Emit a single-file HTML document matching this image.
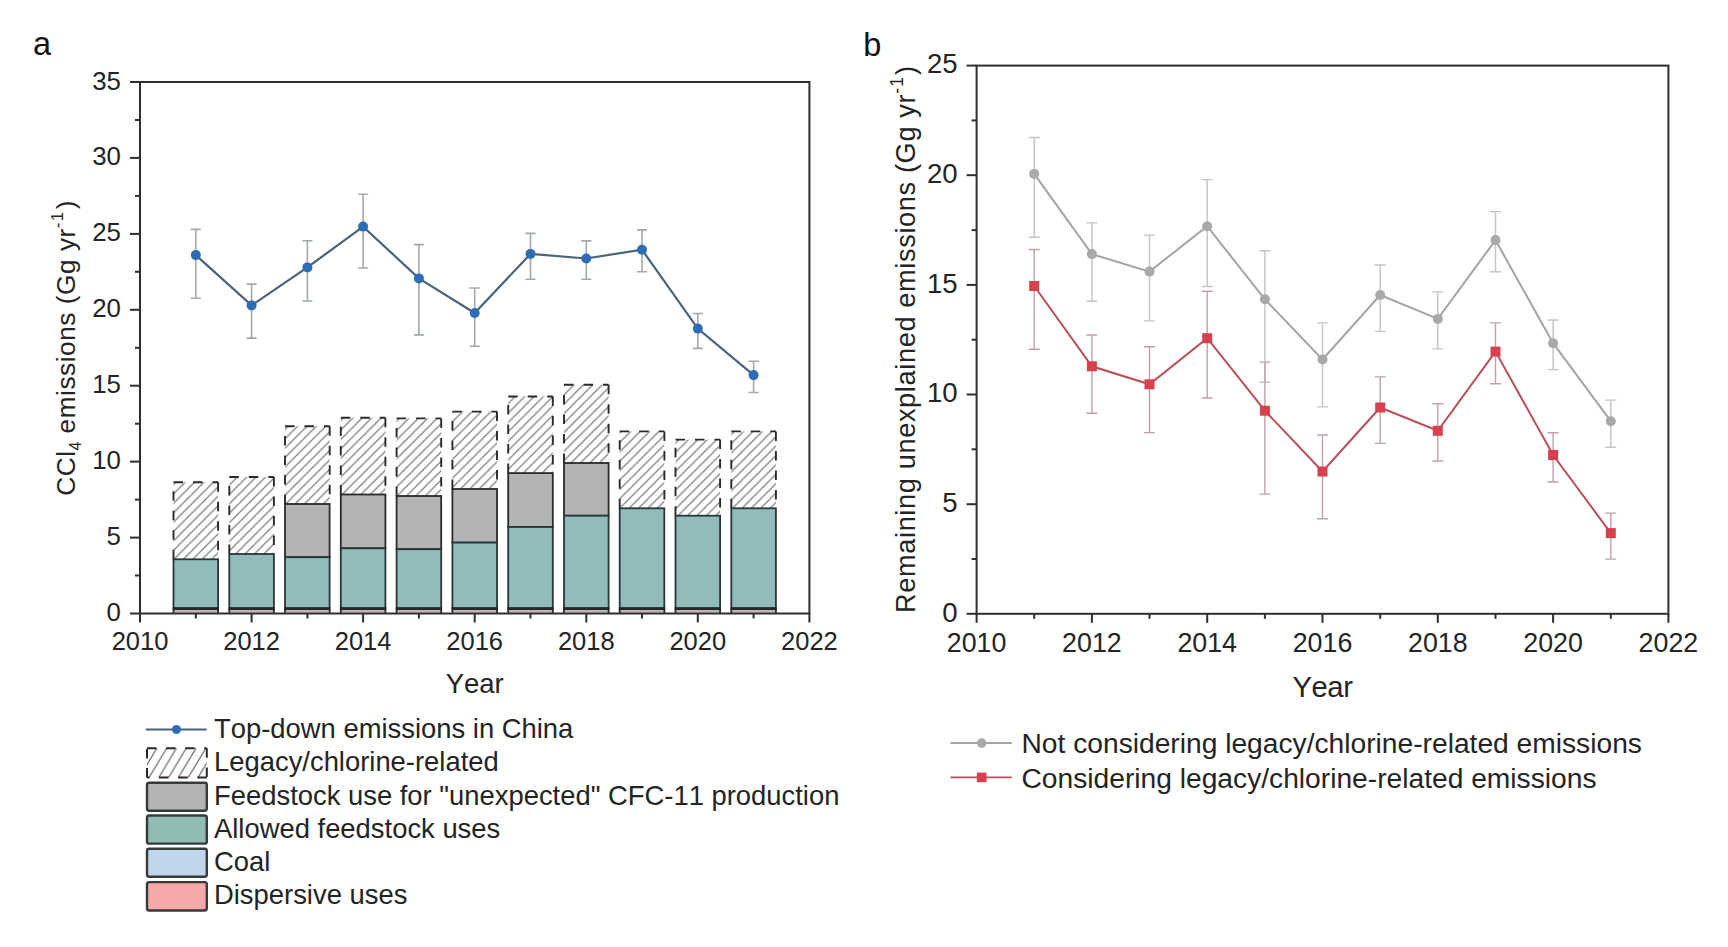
<!DOCTYPE html>
<html><head><meta charset="utf-8"><title>CCl4 emissions</title>
<style>
html,body{margin:0;padding:0;background:#fff;width:1728px;height:947px;overflow:hidden}
svg text{font-family:"Liberation Sans", sans-serif;font-kerning:none}
</style></head>
<body>
<svg width="1728" height="947" viewBox="0 0 1728 947" style="position:absolute;left:0;top:0">
<defs>
<pattern id="hatch" patternUnits="userSpaceOnUse" width="9.4" height="9.4"><path d="M-1,10.4 L10.4,-1 M-1,1 L1,-1 M8.4,10.4 L10.4,8.4" stroke="#7a7a7a" stroke-width="1.2"/></pattern>
<pattern id="hatchL" patternUnits="userSpaceOnUse" x="147" y="748.3" width="9.8" height="16.3"><path d="M-0.6,17.3 L10.4,-1 M-1,1.66 L0.6,-1 M9.2,17.3 L10.8,14.64" stroke="#6a6a6a" stroke-width="1.2"/></pattern>
</defs>
<rect x="0" y="0" width="1728" height="947" fill="#fff"/>
<rect x="173.5" y="482.3" width="44.6" height="77.0" fill="url(#hatch)"/>
<path d="M173.5,482.3H218.1M218.1,482.3V559.3M173.5,559.3V482.3" fill="none" stroke="#2a2a2a" stroke-width="1.9" stroke-dasharray="9.5 10"/>
<rect x="173.5" y="559.3" width="44.6" height="48.9" fill="#92bbbb" stroke="#263838" stroke-width="1.8"/>
<rect x="172.6" y="607.3" width="46.4" height="3.0" fill="#222828"/>
<rect x="173.5" y="610.3" width="44.6" height="2.3" fill="#c2b2b2"/>
<path d="M173.5,610V613M218.1,610V613" stroke="#2a2a2a" stroke-width="1.8"/>
<rect x="229.3" y="477.0" width="44.6" height="77.0" fill="url(#hatch)"/>
<path d="M229.3,477.0H273.9M273.9,477.0V554.0M229.3,554.0V477.0" fill="none" stroke="#2a2a2a" stroke-width="1.9" stroke-dasharray="9.5 10"/>
<rect x="229.3" y="554.0" width="44.6" height="54.2" fill="#92bbbb" stroke="#263838" stroke-width="1.8"/>
<rect x="228.4" y="607.3" width="46.4" height="3.0" fill="#222828"/>
<rect x="229.3" y="610.3" width="44.6" height="2.3" fill="#c2b2b2"/>
<path d="M229.3,610V613M273.9,610V613" stroke="#2a2a2a" stroke-width="1.8"/>
<rect x="285.0" y="426.2" width="44.6" height="77.8" fill="url(#hatch)"/>
<path d="M285.0,426.2H329.7M329.7,426.2V504.0M285.0,504.0V426.2" fill="none" stroke="#2a2a2a" stroke-width="1.9" stroke-dasharray="9.5 10"/>
<rect x="285.0" y="504.0" width="44.6" height="53.2" fill="#b4b4b4" stroke="#2a2a2a" stroke-width="1.8"/>
<rect x="285.0" y="557.2" width="44.6" height="51.0" fill="#92bbbb" stroke="#263838" stroke-width="1.8"/>
<rect x="284.1" y="607.3" width="46.4" height="3.0" fill="#222828"/>
<rect x="285.0" y="610.3" width="44.6" height="2.3" fill="#c2b2b2"/>
<path d="M285.0,610V613M329.7,610V613" stroke="#2a2a2a" stroke-width="1.8"/>
<rect x="340.8" y="417.7" width="44.6" height="76.8" fill="url(#hatch)"/>
<path d="M340.8,417.7H385.4M385.4,417.7V494.5M340.8,494.5V417.7" fill="none" stroke="#2a2a2a" stroke-width="1.9" stroke-dasharray="9.5 10"/>
<rect x="340.8" y="494.5" width="44.6" height="53.8" fill="#b4b4b4" stroke="#2a2a2a" stroke-width="1.8"/>
<rect x="340.8" y="548.3" width="44.6" height="59.9" fill="#92bbbb" stroke="#263838" stroke-width="1.8"/>
<rect x="339.9" y="607.3" width="46.4" height="3.0" fill="#222828"/>
<rect x="340.8" y="610.3" width="44.6" height="2.3" fill="#c2b2b2"/>
<path d="M340.8,610V613M385.4,610V613" stroke="#2a2a2a" stroke-width="1.8"/>
<rect x="396.6" y="418.4" width="44.6" height="77.6" fill="url(#hatch)"/>
<path d="M396.6,418.4H441.2M441.2,418.4V496.0M396.6,496.0V418.4" fill="none" stroke="#2a2a2a" stroke-width="1.9" stroke-dasharray="9.5 10"/>
<rect x="396.6" y="496.0" width="44.6" height="53.2" fill="#b4b4b4" stroke="#2a2a2a" stroke-width="1.8"/>
<rect x="396.6" y="549.2" width="44.6" height="59.0" fill="#92bbbb" stroke="#263838" stroke-width="1.8"/>
<rect x="395.7" y="607.3" width="46.4" height="3.0" fill="#222828"/>
<rect x="396.6" y="610.3" width="44.6" height="2.3" fill="#c2b2b2"/>
<path d="M396.6,610V613M441.2,610V613" stroke="#2a2a2a" stroke-width="1.8"/>
<rect x="452.4" y="411.6" width="44.6" height="77.4" fill="url(#hatch)"/>
<path d="M452.4,411.6H497.0M497.0,411.6V489.0M452.4,489.0V411.6" fill="none" stroke="#2a2a2a" stroke-width="1.9" stroke-dasharray="9.5 10"/>
<rect x="452.4" y="489.0" width="44.6" height="53.6" fill="#b4b4b4" stroke="#2a2a2a" stroke-width="1.8"/>
<rect x="452.4" y="542.6" width="44.6" height="65.6" fill="#92bbbb" stroke="#263838" stroke-width="1.8"/>
<rect x="451.5" y="607.3" width="46.4" height="3.0" fill="#222828"/>
<rect x="452.4" y="610.3" width="44.6" height="2.3" fill="#c2b2b2"/>
<path d="M452.4,610V613M497.0,610V613" stroke="#2a2a2a" stroke-width="1.8"/>
<rect x="508.2" y="396.5" width="44.6" height="76.6" fill="url(#hatch)"/>
<path d="M508.2,396.5H552.8M552.8,396.5V473.1M508.2,473.1V396.5" fill="none" stroke="#2a2a2a" stroke-width="1.9" stroke-dasharray="9.5 10"/>
<rect x="508.2" y="473.1" width="44.6" height="53.9" fill="#b4b4b4" stroke="#2a2a2a" stroke-width="1.8"/>
<rect x="508.2" y="527.0" width="44.6" height="81.2" fill="#92bbbb" stroke="#263838" stroke-width="1.8"/>
<rect x="507.3" y="607.3" width="46.4" height="3.0" fill="#222828"/>
<rect x="508.2" y="610.3" width="44.6" height="2.3" fill="#c2b2b2"/>
<path d="M508.2,610V613M552.8,610V613" stroke="#2a2a2a" stroke-width="1.8"/>
<rect x="564.0" y="384.7" width="44.6" height="78.3" fill="url(#hatch)"/>
<path d="M564.0,384.7H608.6M608.6,384.7V463.0M564.0,463.0V384.7" fill="none" stroke="#2a2a2a" stroke-width="1.9" stroke-dasharray="9.5 10"/>
<rect x="564.0" y="463.0" width="44.6" height="52.7" fill="#b4b4b4" stroke="#2a2a2a" stroke-width="1.8"/>
<rect x="564.0" y="515.7" width="44.6" height="92.5" fill="#92bbbb" stroke="#263838" stroke-width="1.8"/>
<rect x="563.1" y="607.3" width="46.4" height="3.0" fill="#222828"/>
<rect x="564.0" y="610.3" width="44.6" height="2.3" fill="#c2b2b2"/>
<path d="M564.0,610V613M608.6,610V613" stroke="#2a2a2a" stroke-width="1.8"/>
<rect x="619.7" y="431.4" width="44.6" height="76.9" fill="url(#hatch)"/>
<path d="M619.7,431.4H664.4M664.4,431.4V508.3M619.7,508.3V431.4" fill="none" stroke="#2a2a2a" stroke-width="1.9" stroke-dasharray="9.5 10"/>
<rect x="619.7" y="508.3" width="44.6" height="99.9" fill="#92bbbb" stroke="#263838" stroke-width="1.8"/>
<rect x="618.8" y="607.3" width="46.4" height="3.0" fill="#222828"/>
<rect x="619.7" y="610.3" width="44.6" height="2.3" fill="#c2b2b2"/>
<path d="M619.7,610V613M664.4,610V613" stroke="#2a2a2a" stroke-width="1.8"/>
<rect x="675.5" y="439.6" width="44.6" height="76.1" fill="url(#hatch)"/>
<path d="M675.5,439.6H720.1M720.1,439.6V515.7M675.5,515.7V439.6" fill="none" stroke="#2a2a2a" stroke-width="1.9" stroke-dasharray="9.5 10"/>
<rect x="675.5" y="515.7" width="44.6" height="92.5" fill="#92bbbb" stroke="#263838" stroke-width="1.8"/>
<rect x="674.6" y="607.3" width="46.4" height="3.0" fill="#222828"/>
<rect x="675.5" y="610.3" width="44.6" height="2.3" fill="#c2b2b2"/>
<path d="M675.5,610V613M720.1,610V613" stroke="#2a2a2a" stroke-width="1.8"/>
<rect x="731.3" y="431.4" width="44.6" height="76.9" fill="url(#hatch)"/>
<path d="M731.3,431.4H775.9M775.9,431.4V508.3M731.3,508.3V431.4" fill="none" stroke="#2a2a2a" stroke-width="1.9" stroke-dasharray="9.5 10"/>
<rect x="731.3" y="508.3" width="44.6" height="99.9" fill="#92bbbb" stroke="#263838" stroke-width="1.8"/>
<rect x="730.4" y="607.3" width="46.4" height="3.0" fill="#222828"/>
<rect x="731.3" y="610.3" width="44.6" height="2.3" fill="#c2b2b2"/>
<path d="M731.3,610V613M775.9,610V613" stroke="#2a2a2a" stroke-width="1.8"/>
<rect x="140.0" y="82.0" width="669.4" height="531.5" fill="none" stroke="#2e2e2e" stroke-width="2"/>
<line x1="130.0" y1="613.5" x2="140.0" y2="613.5" stroke="#2e2e2e" stroke-width="2"/>
<text x="120.9" y="621.0" text-anchor="end" font-size="25.8" fill="#242424">0</text>
<line x1="130.0" y1="537.6" x2="140.0" y2="537.6" stroke="#2e2e2e" stroke-width="2"/>
<text x="120.9" y="545.1" text-anchor="end" font-size="25.8" fill="#242424">5</text>
<line x1="130.0" y1="461.6" x2="140.0" y2="461.6" stroke="#2e2e2e" stroke-width="2"/>
<text x="120.9" y="469.1" text-anchor="end" font-size="25.8" fill="#242424">10</text>
<line x1="130.0" y1="385.7" x2="140.0" y2="385.7" stroke="#2e2e2e" stroke-width="2"/>
<text x="120.9" y="393.2" text-anchor="end" font-size="25.8" fill="#242424">15</text>
<line x1="130.0" y1="309.8" x2="140.0" y2="309.8" stroke="#2e2e2e" stroke-width="2"/>
<text x="120.9" y="317.3" text-anchor="end" font-size="25.8" fill="#242424">20</text>
<line x1="130.0" y1="233.9" x2="140.0" y2="233.9" stroke="#2e2e2e" stroke-width="2"/>
<text x="120.9" y="241.4" text-anchor="end" font-size="25.8" fill="#242424">25</text>
<line x1="130.0" y1="157.9" x2="140.0" y2="157.9" stroke="#2e2e2e" stroke-width="2"/>
<text x="120.9" y="165.4" text-anchor="end" font-size="25.8" fill="#242424">30</text>
<line x1="130.0" y1="82.0" x2="140.0" y2="82.0" stroke="#2e2e2e" stroke-width="2"/>
<text x="120.9" y="89.5" text-anchor="end" font-size="25.8" fill="#242424">35</text>
<line x1="135.0" y1="575.5" x2="140.0" y2="575.5" stroke="#2e2e2e" stroke-width="2"/>
<line x1="135.0" y1="499.6" x2="140.0" y2="499.6" stroke="#2e2e2e" stroke-width="2"/>
<line x1="135.0" y1="423.7" x2="140.0" y2="423.7" stroke="#2e2e2e" stroke-width="2"/>
<line x1="135.0" y1="347.8" x2="140.0" y2="347.8" stroke="#2e2e2e" stroke-width="2"/>
<line x1="135.0" y1="271.8" x2="140.0" y2="271.8" stroke="#2e2e2e" stroke-width="2"/>
<line x1="135.0" y1="195.9" x2="140.0" y2="195.9" stroke="#2e2e2e" stroke-width="2"/>
<line x1="135.0" y1="120.0" x2="140.0" y2="120.0" stroke="#2e2e2e" stroke-width="2"/>
<line x1="140.0" y1="613.5" x2="140.0" y2="622.5" stroke="#2e2e2e" stroke-width="2"/>
<text x="140.0" y="649.6" text-anchor="middle" font-size="25.5" fill="#242424">2010</text>
<line x1="251.6" y1="613.5" x2="251.6" y2="622.5" stroke="#2e2e2e" stroke-width="2"/>
<text x="251.6" y="649.6" text-anchor="middle" font-size="25.5" fill="#242424">2012</text>
<line x1="363.1" y1="613.5" x2="363.1" y2="622.5" stroke="#2e2e2e" stroke-width="2"/>
<text x="363.1" y="649.6" text-anchor="middle" font-size="25.5" fill="#242424">2014</text>
<line x1="474.7" y1="613.5" x2="474.7" y2="622.5" stroke="#2e2e2e" stroke-width="2"/>
<text x="474.7" y="649.6" text-anchor="middle" font-size="25.5" fill="#242424">2016</text>
<line x1="586.3" y1="613.5" x2="586.3" y2="622.5" stroke="#2e2e2e" stroke-width="2"/>
<text x="586.3" y="649.6" text-anchor="middle" font-size="25.5" fill="#242424">2018</text>
<line x1="697.8" y1="613.5" x2="697.8" y2="622.5" stroke="#2e2e2e" stroke-width="2"/>
<text x="697.8" y="649.6" text-anchor="middle" font-size="25.5" fill="#242424">2020</text>
<line x1="809.4" y1="613.5" x2="809.4" y2="622.5" stroke="#2e2e2e" stroke-width="2"/>
<text x="809.4" y="649.6" text-anchor="middle" font-size="25.5" fill="#242424">2022</text>
<line x1="195.8" y1="613.5" x2="195.8" y2="618.5" stroke="#2e2e2e" stroke-width="2"/>
<line x1="307.4" y1="613.5" x2="307.4" y2="618.5" stroke="#2e2e2e" stroke-width="2"/>
<line x1="418.9" y1="613.5" x2="418.9" y2="618.5" stroke="#2e2e2e" stroke-width="2"/>
<line x1="530.5" y1="613.5" x2="530.5" y2="618.5" stroke="#2e2e2e" stroke-width="2"/>
<line x1="642.0" y1="613.5" x2="642.0" y2="618.5" stroke="#2e2e2e" stroke-width="2"/>
<line x1="753.6" y1="613.5" x2="753.6" y2="618.5" stroke="#2e2e2e" stroke-width="2"/>
<text x="474.7" y="693" text-anchor="middle" font-size="27.5" fill="#242424">Year</text>
<text transform="translate(75.3,347.8) rotate(-90)" text-anchor="middle" font-size="26.2" fill="#242424" letter-spacing="0.55">CCl<tspan font-size="15.6" dy="5.6">4</tspan><tspan dy="-5.6"> emissions (Gg yr</tspan><tspan font-size="17" dy="-12" letter-spacing="1.2">-1</tspan><tspan dy="12" dx="1.5">)</tspan></text>
<path d="M195.8,229.4V298.2M190.8,229.4H200.8M190.8,298.2H200.8" stroke="#a3a9aa" stroke-width="1.6" fill="none"/>
<path d="M251.6,284.1V338.1M246.6,284.1H256.6M246.6,338.1H256.6" stroke="#a3a9aa" stroke-width="1.6" fill="none"/>
<path d="M307.4,240.8V301.0M302.4,240.8H312.4M302.4,301.0H312.4" stroke="#a3a9aa" stroke-width="1.6" fill="none"/>
<path d="M363.1,194.3V268.0M358.1,194.3H368.1M358.1,268.0H368.1" stroke="#a3a9aa" stroke-width="1.6" fill="none"/>
<path d="M418.9,244.6V334.9M413.9,244.6H423.9M413.9,334.9H423.9" stroke="#a3a9aa" stroke-width="1.6" fill="none"/>
<path d="M474.7,288.0V346.2M469.7,288.0H479.7M469.7,346.2H479.7" stroke="#a3a9aa" stroke-width="1.6" fill="none"/>
<path d="M530.5,233.4V279.2M525.5,233.4H535.5M525.5,279.2H535.5" stroke="#a3a9aa" stroke-width="1.6" fill="none"/>
<path d="M586.3,240.9V279.2M581.3,240.9H591.3M581.3,279.2H591.3" stroke="#a3a9aa" stroke-width="1.6" fill="none"/>
<path d="M642.0,229.9V271.7M637.0,229.9H647.0M637.0,271.7H647.0" stroke="#a3a9aa" stroke-width="1.6" fill="none"/>
<path d="M697.8,313.5V348.4M692.8,313.5H702.8M692.8,348.4H702.8" stroke="#a3a9aa" stroke-width="1.6" fill="none"/>
<path d="M753.6,361.2V392.5M748.6,361.2H758.6M748.6,392.5H758.6" stroke="#a3a9aa" stroke-width="1.6" fill="none"/>
<polyline points="195.8,255.1 251.6,305.4 307.4,267.4 363.1,226.6 418.9,278.4 474.7,313.0 530.5,253.9 586.3,258.5 642.0,249.7 697.8,328.6 753.6,375.1" fill="none" stroke="#4b6379" stroke-width="2.2"/>
<circle cx="195.8" cy="255.1" r="5" fill="#2e6db5"/>
<circle cx="251.6" cy="305.4" r="5" fill="#2e6db5"/>
<circle cx="307.4" cy="267.4" r="5" fill="#2e6db5"/>
<circle cx="363.1" cy="226.6" r="5" fill="#2e6db5"/>
<circle cx="418.9" cy="278.4" r="5" fill="#2e6db5"/>
<circle cx="474.7" cy="313.0" r="5" fill="#2e6db5"/>
<circle cx="530.5" cy="253.9" r="5" fill="#2e6db5"/>
<circle cx="586.3" cy="258.5" r="5" fill="#2e6db5"/>
<circle cx="642.0" cy="249.7" r="5" fill="#2e6db5"/>
<circle cx="697.8" cy="328.6" r="5" fill="#2e6db5"/>
<circle cx="753.6" cy="375.1" r="5" fill="#2e6db5"/>
<rect x="976.6" y="65.6" width="691.8" height="548.2" fill="none" stroke="#2e2e2e" stroke-width="2"/>
<line x1="966.6" y1="613.8" x2="976.6" y2="613.8" stroke="#2e2e2e" stroke-width="2"/>
<text x="957.6" y="621.5" text-anchor="end" font-size="27.6" fill="#242424">0</text>
<line x1="966.6" y1="504.2" x2="976.6" y2="504.2" stroke="#2e2e2e" stroke-width="2"/>
<text x="957.6" y="511.9" text-anchor="end" font-size="27.6" fill="#242424">5</text>
<line x1="966.6" y1="394.5" x2="976.6" y2="394.5" stroke="#2e2e2e" stroke-width="2"/>
<text x="957.6" y="402.2" text-anchor="end" font-size="27.6" fill="#242424">10</text>
<line x1="966.6" y1="284.9" x2="976.6" y2="284.9" stroke="#2e2e2e" stroke-width="2"/>
<text x="957.6" y="292.6" text-anchor="end" font-size="27.6" fill="#242424">15</text>
<line x1="966.6" y1="175.2" x2="976.6" y2="175.2" stroke="#2e2e2e" stroke-width="2"/>
<text x="957.6" y="182.9" text-anchor="end" font-size="27.6" fill="#242424">20</text>
<line x1="966.6" y1="65.6" x2="976.6" y2="65.6" stroke="#2e2e2e" stroke-width="2"/>
<text x="957.6" y="73.3" text-anchor="end" font-size="27.6" fill="#242424">25</text>
<line x1="971.6" y1="559.0" x2="976.6" y2="559.0" stroke="#2e2e2e" stroke-width="2"/>
<line x1="971.6" y1="449.3" x2="976.6" y2="449.3" stroke="#2e2e2e" stroke-width="2"/>
<line x1="971.6" y1="339.7" x2="976.6" y2="339.7" stroke="#2e2e2e" stroke-width="2"/>
<line x1="971.6" y1="230.1" x2="976.6" y2="230.1" stroke="#2e2e2e" stroke-width="2"/>
<line x1="971.6" y1="120.4" x2="976.6" y2="120.4" stroke="#2e2e2e" stroke-width="2"/>
<line x1="976.6" y1="613.8" x2="976.6" y2="622.8" stroke="#2e2e2e" stroke-width="2"/>
<text x="976.6" y="651.5" text-anchor="middle" font-size="26.8" fill="#242424">2010</text>
<line x1="1091.9" y1="613.8" x2="1091.9" y2="622.8" stroke="#2e2e2e" stroke-width="2"/>
<text x="1091.9" y="651.5" text-anchor="middle" font-size="26.8" fill="#242424">2012</text>
<line x1="1207.2" y1="613.8" x2="1207.2" y2="622.8" stroke="#2e2e2e" stroke-width="2"/>
<text x="1207.2" y="651.5" text-anchor="middle" font-size="26.8" fill="#242424">2014</text>
<line x1="1322.5" y1="613.8" x2="1322.5" y2="622.8" stroke="#2e2e2e" stroke-width="2"/>
<text x="1322.5" y="651.5" text-anchor="middle" font-size="26.8" fill="#242424">2016</text>
<line x1="1437.8" y1="613.8" x2="1437.8" y2="622.8" stroke="#2e2e2e" stroke-width="2"/>
<text x="1437.8" y="651.5" text-anchor="middle" font-size="26.8" fill="#242424">2018</text>
<line x1="1553.1" y1="613.8" x2="1553.1" y2="622.8" stroke="#2e2e2e" stroke-width="2"/>
<text x="1553.1" y="651.5" text-anchor="middle" font-size="26.8" fill="#242424">2020</text>
<line x1="1668.4" y1="613.8" x2="1668.4" y2="622.8" stroke="#2e2e2e" stroke-width="2"/>
<text x="1668.4" y="651.5" text-anchor="middle" font-size="26.8" fill="#242424">2022</text>
<line x1="1034.2" y1="613.8" x2="1034.2" y2="618.8" stroke="#2e2e2e" stroke-width="2"/>
<line x1="1149.5" y1="613.8" x2="1149.5" y2="618.8" stroke="#2e2e2e" stroke-width="2"/>
<line x1="1264.9" y1="613.8" x2="1264.9" y2="618.8" stroke="#2e2e2e" stroke-width="2"/>
<line x1="1380.2" y1="613.8" x2="1380.2" y2="618.8" stroke="#2e2e2e" stroke-width="2"/>
<line x1="1495.5" y1="613.8" x2="1495.5" y2="618.8" stroke="#2e2e2e" stroke-width="2"/>
<line x1="1610.8" y1="613.8" x2="1610.8" y2="618.8" stroke="#2e2e2e" stroke-width="2"/>
<text x="1322.5" y="697.4" text-anchor="middle" font-size="29.2" letter-spacing="-0.4" fill="#242424">Year</text>
<text transform="translate(914.8,339.2) rotate(-90)" text-anchor="middle" font-size="27.2" fill="#242424" letter-spacing="0.62">Remaining unexplained emissions (Gg yr<tspan font-size="17.5" dy="-11.5" letter-spacing="1.2">-1</tspan><tspan dy="11.5" dx="0.8">)</tspan></text>
<path d="M1034.2,137.5V237.2M1028.8,137.5H1039.8M1028.8,237.2H1039.8" stroke="#c4c4c4" stroke-width="1.4" fill="none"/>
<path d="M1091.9,222.9V301.2M1086.4,222.9H1097.4M1086.4,301.2H1097.4" stroke="#c4c4c4" stroke-width="1.4" fill="none"/>
<path d="M1149.5,235.1V320.9M1144.0,235.1H1155.0M1144.0,320.9H1155.0" stroke="#c4c4c4" stroke-width="1.4" fill="none"/>
<path d="M1207.2,179.6V286.5M1201.7,179.6H1212.7M1201.7,286.5H1212.7" stroke="#c4c4c4" stroke-width="1.4" fill="none"/>
<path d="M1264.9,250.7V382.3M1259.4,250.7H1270.4M1259.4,382.3H1270.4" stroke="#c4c4c4" stroke-width="1.4" fill="none"/>
<path d="M1322.5,322.9V406.9M1317.0,322.9H1328.0M1317.0,406.9H1328.0" stroke="#c4c4c4" stroke-width="1.4" fill="none"/>
<path d="M1380.2,265.0V331.4M1374.7,265.0H1385.7M1374.7,331.4H1385.7" stroke="#c4c4c4" stroke-width="1.4" fill="none"/>
<path d="M1437.8,291.9V348.9M1432.3,291.9H1443.3M1432.3,348.9H1443.3" stroke="#c4c4c4" stroke-width="1.4" fill="none"/>
<path d="M1495.5,211.6V271.8M1490.0,211.6H1501.0M1490.0,271.8H1501.0" stroke="#c4c4c4" stroke-width="1.4" fill="none"/>
<path d="M1553.1,320.0V369.6M1547.6,320.0H1558.6M1547.6,369.6H1558.6" stroke="#c4c4c4" stroke-width="1.4" fill="none"/>
<path d="M1610.8,400.1V447.2M1605.2,400.1H1616.2M1605.2,447.2H1616.2" stroke="#c4c4c4" stroke-width="1.4" fill="none"/>
<polyline points="1034.2,173.9 1091.9,254.1 1149.5,271.6 1207.2,226.2 1264.9,299.3 1322.5,359.5 1380.2,295.0 1437.8,318.9 1495.5,240.1 1553.1,343.2 1610.8,421.2" fill="none" stroke="#a4a4a4" stroke-width="2"/>
<circle cx="1034.2" cy="173.9" r="5" fill="#a9a9a9"/>
<circle cx="1091.9" cy="254.1" r="5" fill="#a9a9a9"/>
<circle cx="1149.5" cy="271.6" r="5" fill="#a9a9a9"/>
<circle cx="1207.2" cy="226.2" r="5" fill="#a9a9a9"/>
<circle cx="1264.9" cy="299.3" r="5" fill="#a9a9a9"/>
<circle cx="1322.5" cy="359.5" r="5" fill="#a9a9a9"/>
<circle cx="1380.2" cy="295.0" r="5" fill="#a9a9a9"/>
<circle cx="1437.8" cy="318.9" r="5" fill="#a9a9a9"/>
<circle cx="1495.5" cy="240.1" r="5" fill="#a9a9a9"/>
<circle cx="1553.1" cy="343.2" r="5" fill="#a9a9a9"/>
<circle cx="1610.8" cy="421.2" r="5" fill="#a9a9a9"/>
<path d="M1034.2,249.5V349.2M1028.8,249.5H1039.8M1028.8,349.2H1039.8" stroke="#c0a2a6" stroke-width="1.4" fill="none"/>
<path d="M1091.9,335.0V413.2M1086.4,335.0H1097.4M1086.4,413.2H1097.4" stroke="#c0a2a6" stroke-width="1.4" fill="none"/>
<path d="M1149.5,346.7V432.6M1144.0,346.7H1155.0M1144.0,432.6H1155.0" stroke="#c0a2a6" stroke-width="1.4" fill="none"/>
<path d="M1207.2,291.3V398.0M1201.7,291.3H1212.7M1201.7,398.0H1212.7" stroke="#c0a2a6" stroke-width="1.4" fill="none"/>
<path d="M1264.9,362.1V494.1M1259.4,362.1H1270.4M1259.4,494.1H1270.4" stroke="#c0a2a6" stroke-width="1.4" fill="none"/>
<path d="M1322.5,435.0V518.8M1317.0,435.0H1328.0M1317.0,518.8H1328.0" stroke="#c0a2a6" stroke-width="1.4" fill="none"/>
<path d="M1380.2,376.9V443.4M1374.7,376.9H1385.7M1374.7,443.4H1385.7" stroke="#c0a2a6" stroke-width="1.4" fill="none"/>
<path d="M1437.8,403.7V461.0M1432.3,403.7H1443.3M1432.3,461.0H1443.3" stroke="#c0a2a6" stroke-width="1.4" fill="none"/>
<path d="M1495.5,322.9V383.7M1490.0,322.9H1501.0M1490.0,383.7H1501.0" stroke="#c0a2a6" stroke-width="1.4" fill="none"/>
<path d="M1553.1,432.8V482.0M1547.6,432.8H1558.6M1547.6,482.0H1558.6" stroke="#c0a2a6" stroke-width="1.4" fill="none"/>
<path d="M1610.8,513.1V559.1M1605.2,513.1H1616.2M1605.2,559.1H1616.2" stroke="#c0a2a6" stroke-width="1.4" fill="none"/>
<polyline points="1034.2,286.0 1091.9,366.3 1149.5,384.3 1207.2,338.2 1264.9,410.7 1322.5,471.5 1380.2,407.5 1437.8,430.8 1495.5,351.6 1553.1,455.0 1610.8,533.1" fill="none" stroke="#b94f5b" stroke-width="2"/>
<rect x="1029.2" y="281.0" width="10" height="10" fill="#d9404d"/>
<rect x="1086.9" y="361.3" width="10" height="10" fill="#d9404d"/>
<rect x="1144.5" y="379.3" width="10" height="10" fill="#d9404d"/>
<rect x="1202.2" y="333.2" width="10" height="10" fill="#d9404d"/>
<rect x="1259.9" y="405.7" width="10" height="10" fill="#d9404d"/>
<rect x="1317.5" y="466.5" width="10" height="10" fill="#d9404d"/>
<rect x="1375.2" y="402.5" width="10" height="10" fill="#d9404d"/>
<rect x="1432.8" y="425.8" width="10" height="10" fill="#d9404d"/>
<rect x="1490.5" y="346.6" width="10" height="10" fill="#d9404d"/>
<rect x="1548.1" y="450.0" width="10" height="10" fill="#d9404d"/>
<rect x="1605.8" y="528.1" width="10" height="10" fill="#d9404d"/>
<text x="33" y="55.3" font-size="32.5" fill="#111">a</text>
<text x="863.2" y="55.5" font-size="32.5" fill="#111">b</text>
<line x1="145.8" y1="729.5" x2="206.7" y2="729.5" stroke="#4b6379" stroke-width="2"/>
<circle cx="176.5" cy="729.5" r="4.5" fill="#2e6db5"/>
<text x="214" y="738.3" font-size="27.4" fill="#242424">Top-down emissions in China</text>
<rect x="147" y="748.3" width="59.8" height="29.2" fill="url(#hatchL)"/>
<path d="M147,748.3H206.8M206.8,748.3V777.5M206.8,777.5H147M147,777.5V748.3" fill="none" stroke="#2a2a2a" stroke-width="2" stroke-dasharray="9.5 9.6"/>
<text x="214" y="770.8" font-size="27.4" fill="#242424">Legacy/chlorine-related</text>
<rect x="147" y="782.7" width="59.8" height="28.1" rx="2.2" fill="#b4b4b4" stroke="#353b3b" stroke-width="2.4"/>
<text x="214" y="804.5" font-size="27.4" fill="#242424">Feedstock use for &quot;unexpected&quot; CFC-11 production</text>
<rect x="147" y="815.5" width="59.8" height="28.1" rx="2.2" fill="#90bcb4" stroke="#353b3b" stroke-width="2.4"/>
<text x="214" y="838.2" font-size="27.4" fill="#242424">Allowed feedstock uses</text>
<rect x="147" y="848.8" width="59.8" height="27.9" rx="2.2" fill="#c1d6ec" stroke="#353b3b" stroke-width="2.4"/>
<text x="214" y="871.4" font-size="27.4" fill="#242424">Coal</text>
<rect x="147" y="882.1" width="59.8" height="28.4" rx="2.2" fill="#f7a9a9" stroke="#353b3b" stroke-width="2.4"/>
<text x="214" y="904.4" font-size="27.4" fill="#242424">Dispersive uses</text>
<line x1="950.4" y1="743.1" x2="1011.8" y2="743.1" stroke="#a4a4a4" stroke-width="2"/>
<circle cx="981.7" cy="743.1" r="4.8" fill="#a9a9a9"/>
<text x="1021.5" y="753.4" font-size="28.2" fill="#242424">Not considering legacy/chlorine-related emissions</text>
<line x1="950.4" y1="777.4" x2="1011.8" y2="777.4" stroke="#b94f5b" stroke-width="1.8"/>
<rect x="976.9" y="772.6" width="9.6" height="9.6" fill="#d9404d"/>
<text x="1021.5" y="787.6" font-size="28.2" fill="#242424">Considering legacy/chlorine-related emissions</text>
</svg>
</body></html>
